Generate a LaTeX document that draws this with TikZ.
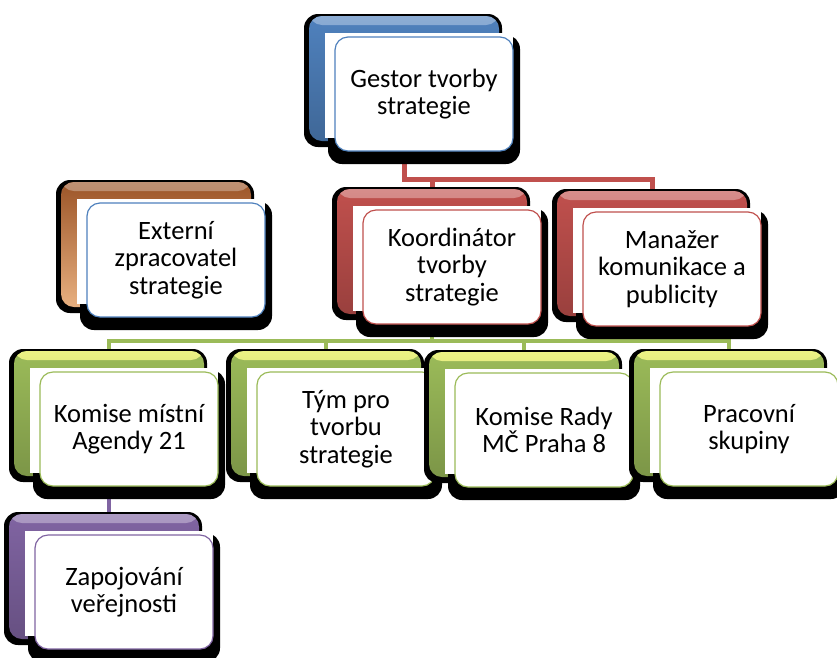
\documentclass[tikz,border=0pt]{standalone}
\usepackage{fontspec}
\setmainfont{Carlito}
\usetikzlibrary{calc}
\usetikzlibrary{backgrounds}

\definecolor{orgblue}{HTML}{4F81BD}
\definecolor{orgbrown}{HTML}{9C5528}
\definecolor{orgtan}{HTML}{E8B080}
\definecolor{orgred}{HTML}{C0504D}
\definecolor{orggreen}{HTML}{9BBB59}
\definecolor{orgpurple}{HTML}{8064A2}

\tikzset{
    backshadow/.style={fill=black, rounded corners=14pt, minimum width=198pt, minimum height=133pt, inner sep=0pt},
    backbox/.style n args={3}{rounded corners=13pt, minimum width=190pt, minimum height=125pt, inner sep=0pt,
        top color=#2, bottom color=#3,
        path picture={\shade[top color=#1, bottom color=#2]
            (path picture bounding box.north west) rectangle ($(path picture bounding box.north east)+(0,9)$);}},
    frontshadow/.style={fill=black, rounded corners=14pt, minimum width=192pt, minimum height=129pt, inner sep=0pt},
    frontbox/.style={draw=#1, line width=1.2pt, fill=white, rounded corners=13pt,
        minimum width=178pt, minimum height=114pt, inner sep=0pt, align=center,
        font=\fontsize{26.5}{27.5}\selectfont},
    redlink/.style={draw=orgred, line width=5pt},
    greenlink/.style={draw=orggreen, line width=4pt},
    purplelink/.style={draw=orgpurple, line width=4pt}
}

% name, centre, highlight / body / bottom colour, border colour, text
\newcommand{\orgunit}[7]{%
    \node[backshadow] at ($(#2)+(-21,-13.5)$) {};
    \node[backbox={#3}{#4}{#5}] (#1bg) at ($(#2)+(-20,-15.5)$) {};
    \node[frontshadow] at ($(#2)+(0,5.5)$) {};
    \fill[white] ($(#2)+(-99,-61)$) rectangle ($(#2)+(89,44)$);
    \node[frontbox=#6] (#1) at (#2) {#7};
}

\begin{document}
\begin{tikzpicture}[x=1pt, y=-1pt]
    \useasboundingbox (0, 0) rectangle (837, 657);
    \orgunit{gestor}{424,94}{orgblue!65!white}{orgblue}{orgblue!80!black}{orgblue}{Gestor tvorby\\strategie}
    \orgunit{extern}{176,260}{orgbrown!65!white}{orgbrown}{orgtan}{orgblue}{Externí\\zpracovatel\\strategie}
    \orgunit{koord}{452,267}{orgred!65!white}{orgred}{orgred!80!black}{orgred}{Koordinátor\\tvorby\\strategie}
    \orgunit{manazer}{672,269}{orgred!65!white}{orgred}{orgred!80!black}{orgred}{Manažer\\komunikace a\\publicity}
    \orgunit{komise}{129,429}{orggreen!35!yellow!55!white}{orggreen}{orggreen!80!black}{orggreen}{Komise místní\\Agendy 21}
    \orgunit{tym}{346,429}{orggreen!35!yellow!55!white}{orggreen}{orggreen!80!black}{orggreen}{Tým pro\\tvorbu\\strategie}
    \orgunit{rada}{544,430}{orggreen!35!yellow!55!white}{orggreen}{orggreen!80!black}{orggreen}{Komise Rady\\MČ Praha 8}
    \orgunit{prac}{749,429}{orggreen!35!yellow!55!white}{orggreen}{orggreen!80!black}{orggreen}{Pracovní\\skupiny}
    \orgunit{zapoj}{124,592}{orgpurple!65!white}{orgpurple}{orgpurple!80!black}{orgpurple}{Zapojování\\veřejnosti}
    \begin{scope}[on background layer]
        \draw[redlink] (gestorbg.south) -- ++(0, 38) coordinate (redbus) -| (manazerbg.north);
        \draw[redlink] (redbus) -| (koordbg.north);
        \draw[greenlink] (koordbg.south) -- ++(0, 27) coordinate (greenbus) -| (komisebg.north);
        \draw[greenlink] (greenbus) -| (tymbg.north);
        \draw[greenlink] (greenbus) -| (radabg.north);
        \draw[greenlink] (greenbus) -| (pracbg.north);
        \draw[purplelink] (komisebg.south) -- (komisebg.south |- zapojbg.north);
    \end{scope}
\end{tikzpicture}
\end{document}
